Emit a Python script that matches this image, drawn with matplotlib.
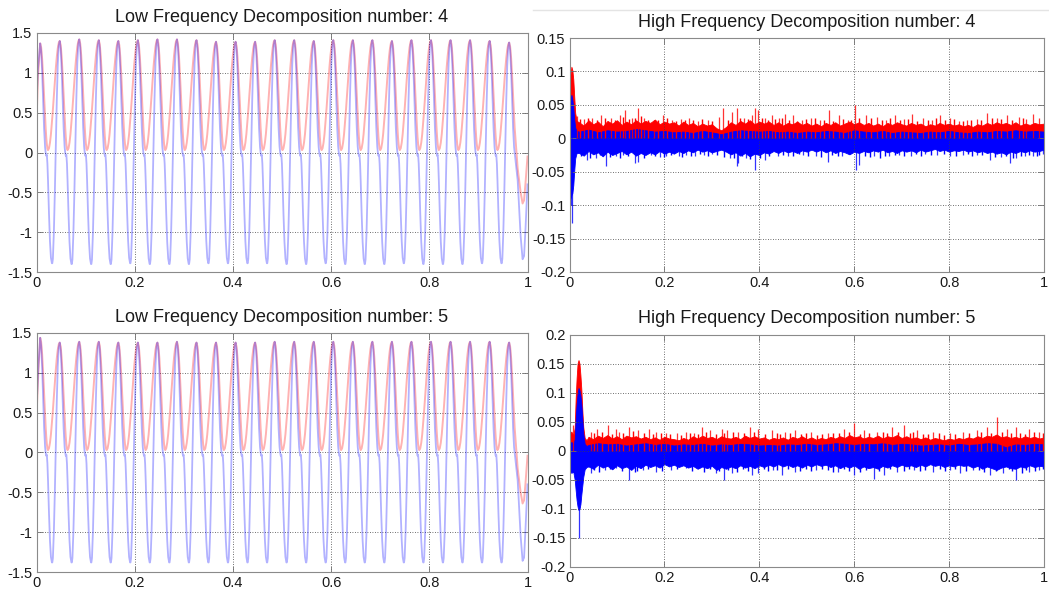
import numpy as np
import matplotlib
matplotlib.use("Agg")
import matplotlib.pyplot as plt
from matplotlib.lines import Line2D

plt.rcParams['font.family'] = ['Liberation Sans', 'DejaVu Sans']

# ---------------------------------------------------------------- axes ticks
XTICKS = [0, 0.2, 0.4, 0.6, 0.8, 1.0]
XLABELS = ['0', '0.2', '0.4', '0.6', '0.8', '1']
LF_YTICKS = [-1.5, -1, -0.5, 0, 0.5, 1, 1.5]
LF_YLABELS = ['-1.5', '-1', '-0.5', '0', '0.5', '1', '1.5']
HF4_YTICKS = [-0.2, -0.15, -0.1, -0.05, 0, 0.05, 0.1, 0.15]
HF4_YLABELS = ['-0.2', '-0.15', '-0.1', '-0.05', '0', '0.05', '0.1', '0.15']
HF5_YTICKS = [-0.2, -0.15, -0.1, -0.05, 0, 0.05, 0.1, 0.15, 0.2]
HF5_YLABELS = ['-0.2', '-0.15', '-0.1', '-0.05', '0', '0.05', '0.1', '0.15', '0.2']

# ------------------------------------------------------- low-frequency parts
LF_PERIOD = 0.0398        # one oscillation
LF_FIRST_PEAK = 0.0075    # time of the first crest
RED_FLOOR = 0.03          # minimum of the red component
# one cycle from crest to crest
CYCLE_PHASE = [0.0, 0.05, 0.10, 0.15, 0.20, 0.25, 0.28, 0.31, 0.34, 0.37, 0.40, 0.45,
               0.50, 0.55, 0.60, 0.62, 0.65, 0.70, 0.75, 0.80, 0.85, 0.90, 0.95]
RED_SHAPE = [1.0, 0.962, 0.854, 0.691, 0.50, 0.309, 0.21, 0.12, 0.055, 0.014, 0.0, 0.017,
             0.067, 0.146, 0.25, 0.30, 0.37, 0.50, 0.63, 0.75, 0.854, 0.933, 0.983]
BLUE_SHAPE = [1.0, 0.93, 0.74, 0.48, 0.22, 0.05, 0.0, -0.03, -0.02, -0.10, -0.25, -0.55,
              -0.80, -0.95, -1.0, -1.0, -0.96, -0.72, -0.36, 0.06, 0.47, 0.79, 0.96]

LF4_PEAKS = [1.37, 1.40, 1.42, 1.41, 1.40, 1.41, 1.42, 1.42, 1.41, 1.39, 1.39, 1.39, 1.41,
             1.41, 1.40, 1.41, 1.41, 1.41, 1.40, 1.41, 1.41, 1.41, 1.41, 1.40, 1.38]
LF4_TROUGHS = [-1.39, -1.40, -1.40, -1.40, -1.39, -1.40, -1.40, -1.40, -1.39, -1.39, -1.39, -1.39,
               -1.40, -1.40, -1.39, -1.40, -1.40, -1.40, -1.39, -1.40, -1.40, -1.40, -1.39, -1.39]
LF4_HEAD_X = [0.0, 0.003]
LF4_HEAD_RED = [0.38, 0.95]
LF4_HEAD_BLUE = [0.60, 1.05]
LF4_TAIL_X = [0.980, 0.986, 0.990, 0.993, 0.996, 1.0]
LF4_TAIL_RED = [-0.20, -0.50, -0.64, -0.60, -0.38, -0.05]
LF4_TAIL_BLUE = [-0.35, -1.05, -1.34, -1.30, -0.95, -0.40]

LF5_PEAKS = [1.44, 1.38, 1.39, 1.39, 1.38, 1.38, 1.38, 1.39, 1.38, 1.38, 1.38, 1.38, 1.39,
             1.39, 1.39, 1.39, 1.39, 1.39, 1.39, 1.39, 1.39, 1.39, 1.39, 1.39, 1.38]
LF5_TROUGHS = [-1.38, -1.38, -1.38, -1.38, -1.38, -1.38, -1.38, -1.38, -1.38, -1.38, -1.38, -1.38,
               -1.38, -1.38, -1.38, -1.38, -1.38, -1.38, -1.38, -1.38, -1.38, -1.38, -1.38, -1.38]
LF5_HEAD_X = [0.0, 0.004]
LF5_HEAD_RED = [0.45, 1.05]
LF5_HEAD_BLUE = [0.55, 1.10]
LF5_TAIL_X = [0.980, 0.986, 0.990, 0.993, 0.996, 1.0]
LF5_TAIL_RED = [-0.20, -0.50, -0.64, -0.60, -0.38, -0.04]
LF5_TAIL_BLUE = [-0.35, -1.05, -1.36, -1.32, -0.95, -0.40]

# ------------------------------------------------------ high-frequency parts
# decomposition 4: onset burst
HF4_T = [0.0, 0.002, 0.004, 0.006, 0.008, 0.010, 0.012, 0.015]
HF4_T_RED = [0.035, 0.095, 0.107, 0.102, 0.088, 0.062, 0.038, 0.026]
HF4_T_BTOP = [0.015, 0.055, 0.065, 0.058, 0.045, 0.028, 0.016, 0.011]
HF4_T_BBOT = [-0.035, -0.090, -0.085, -0.082, -0.070, -0.048, -0.030, -0.022]
# dense band, sampled every 0.01 from 0.02
HF4_RED_TOP = [0.024, 0.019, 0.027, 0.021, 0.025, 0.018, 0.026, 0.022, 0.027, 0.020,
               0.025, 0.021, 0.027, 0.022, 0.026, 0.023, 0.028, 0.021, 0.025, 0.022,
               0.024, 0.019, 0.025, 0.020, 0.023, 0.018, 0.022, 0.019, 0.021, 0.015,
               0.012, 0.017, 0.024, 0.020, 0.026, 0.022, 0.027, 0.021, 0.025, 0.022,
               0.025, 0.020, 0.024, 0.019, 0.023, 0.021, 0.025, 0.020, 0.023, 0.019,
               0.022, 0.018, 0.023, 0.020, 0.024, 0.019, 0.022, 0.025, 0.021, 0.024,
               0.020, 0.023, 0.019, 0.022, 0.018, 0.023, 0.020, 0.024, 0.021, 0.019,
               0.023, 0.020, 0.022, 0.018, 0.021, 0.019, 0.023, 0.020, 0.022, 0.019,
               0.021, 0.018, 0.020, 0.017, 0.021, 0.019, 0.023, 0.020, 0.024, 0.021,
               0.023, 0.020, 0.024, 0.019, 0.022, 0.020, 0.023, 0.021, 0.022]
HF4_BLUE_BOT = [-0.022, -0.026, -0.019, -0.024, -0.021, -0.027, -0.020, -0.025, -0.022, -0.019,
                -0.024, -0.020, -0.026, -0.022, -0.025, -0.021, -0.024, -0.019, -0.023, -0.020,
                -0.023, -0.019, -0.022, -0.018, -0.021, -0.017, -0.020, -0.018, -0.021, -0.019,
                -0.017, -0.020, -0.024, -0.021, -0.026, -0.022, -0.027, -0.023, -0.025, -0.021,
                -0.023, -0.019, -0.022, -0.018, -0.021, -0.019, -0.022, -0.018, -0.020, -0.017,
                -0.020, -0.017, -0.021, -0.018, -0.022, -0.019, -0.021, -0.024, -0.020, -0.022,
                -0.019, -0.021, -0.018, -0.020, -0.017, -0.021, -0.019, -0.022, -0.018, -0.020,
                -0.018, -0.021, -0.017, -0.020, -0.018, -0.016, -0.019, -0.017, -0.020, -0.018,
                -0.019, -0.017, -0.020, -0.018, -0.021, -0.019, -0.022, -0.020, -0.023, -0.021,
                -0.024, -0.020, -0.022, -0.019, -0.021, -0.018, -0.020, -0.019, -0.017]
# upper edge of the blue band, sampled every 0.02 from 0.02
HF4_BLUE_TOP = [0.010, 0.013, 0.009, 0.012, 0.010, 0.011, 0.014, 0.012, 0.010, 0.011,
                0.009, 0.010, 0.008, 0.011, 0.009, 0.006, 0.010, 0.012, 0.011, 0.010,
                0.011, 0.009, 0.010, 0.008, 0.010, 0.009, 0.011, 0.010, 0.008, 0.012,
                0.010, 0.009, 0.011, 0.008, 0.010, 0.009, 0.008, 0.010, 0.009, 0.011,
                0.009, 0.008, 0.010, 0.009, 0.011, 0.010, 0.012, 0.010, 0.011, 0.010]
# tall isolated excursions
HF4_RED_SPIKE_X = [0.015, 0.030, 0.048, 0.067, 0.088, 0.106, 0.118, 0.131, 0.144, 0.158, 0.179,
                   0.198, 0.217, 0.235, 0.252, 0.270, 0.292, 0.315, 0.323, 0.342, 0.353, 0.367,
                   0.384, 0.391, 0.398, 0.412, 0.426, 0.441, 0.454, 0.471, 0.490, 0.510, 0.528,
                   0.546, 0.569, 0.586, 0.602, 0.625, 0.649, 0.667, 0.687, 0.705, 0.722, 0.746,
                   0.765, 0.781, 0.802, 0.820, 0.837, 0.858, 0.880, 0.900, 0.921, 0.948, 0.962,
                   0.976, 0.990]
HF4_RED_SPIKE_Y = [0.033, 0.029, 0.031, 0.035, 0.030, 0.035, 0.042, 0.030, 0.045, 0.030, 0.028,
                   0.035, 0.028, 0.029, 0.030, 0.026, 0.027, 0.032, 0.045, 0.040, 0.045, 0.031,
                   0.035, 0.045, 0.042, 0.030, 0.035, 0.030, 0.037, 0.035, 0.028, 0.030, 0.027,
                   0.042, 0.035, 0.028, 0.050, 0.035, 0.032, 0.028, 0.035, 0.029, 0.037, 0.030,
                   0.027, 0.035, 0.030, 0.026, 0.028, 0.029, 0.038, 0.030, 0.035, 0.032, 0.029,
                   0.037, 0.030]
HF4_BLUE_SPIKE_X = [0.003, 0.0045, 0.036, 0.055, 0.076, 0.099, 0.113, 0.137, 0.144, 0.172, 0.190,
                    0.203, 0.231, 0.245, 0.265, 0.283, 0.300, 0.338, 0.353, 0.356, 0.372, 0.391,
                    0.412, 0.440, 0.461, 0.492, 0.520, 0.544, 0.575, 0.604, 0.611, 0.642, 0.673,
                    0.694, 0.720, 0.750, 0.775, 0.802, 0.830, 0.858, 0.886, 0.910, 0.928, 0.941,
                    0.960, 0.976, 0.997]
HF4_BLUE_SPIKE_Y = [-0.100, -0.127, -0.032, -0.029, -0.042, -0.027, -0.025, -0.037, -0.036, -0.025,
                    -0.028, -0.027, -0.027, -0.025, -0.026, -0.025, -0.024, -0.030, -0.042, -0.037,
                    -0.030, -0.047, -0.032, -0.027, -0.027, -0.025, -0.026, -0.035, -0.027, -0.047,
                    -0.040, -0.027, -0.027, -0.025, -0.026, -0.023, -0.025, -0.027, -0.025, -0.025,
                    -0.032, -0.028, -0.037, -0.030, -0.026, -0.027, -0.023]
# shorter excursions along the band edges
HF4_RED_GRASS_X = [0.022, 0.039, 0.057, 0.075, 0.095, 0.112, 0.125, 0.138, 0.151, 0.166,
                   0.186, 0.206, 0.225, 0.243, 0.261, 0.279, 0.300, 0.335, 0.360, 0.376,
                   0.405, 0.419, 0.434, 0.447, 0.462, 0.480, 0.499, 0.518, 0.537, 0.556,
                   0.577, 0.594, 0.611, 0.635, 0.658, 0.676, 0.696, 0.713, 0.733, 0.755,
                   0.773, 0.791, 0.811, 0.829, 0.847, 0.868, 0.890, 0.910, 0.932, 0.955]
HF4_RED_GRASS_Y = [0.029, 0.031, 0.027, 0.030, 0.028, 0.032, 0.029, 0.031, 0.033, 0.028,
                   0.027, 0.030, 0.026, 0.028, 0.027, 0.029, 0.026, 0.028, 0.030, 0.029,
                   0.031, 0.027, 0.029, 0.030, 0.028, 0.026, 0.029, 0.031, 0.028, 0.026,
                   0.029, 0.027, 0.030, 0.031, 0.028, 0.030, 0.027, 0.029, 0.026, 0.028,
                   0.030, 0.027, 0.029, 0.026, 0.028, 0.027, 0.030, 0.029, 0.028, 0.030]
HF4_BLUE_GRASS_X = [0.025, 0.044, 0.064, 0.086, 0.106, 0.124, 0.156, 0.181, 0.214, 0.238,
                    0.256, 0.274, 0.292, 0.310, 0.326, 0.346, 0.364, 0.381, 0.402, 0.421,
                    0.450, 0.472, 0.484, 0.503, 0.529, 0.553, 0.566, 0.588, 0.622, 0.633,
                    0.655, 0.665, 0.685, 0.704, 0.730, 0.741, 0.762, 0.789, 0.815, 0.840,
                    0.848, 0.870, 0.897, 0.920, 0.935, 0.952, 0.968, 0.985, 0.199, 0.990]
HF4_BLUE_GRASS_Y = [-0.027, -0.029, -0.025, -0.028, -0.030, -0.026, -0.029, -0.027, -0.025, -0.028,
                    -0.026, -0.024, -0.027, -0.025, -0.028, -0.030, -0.027, -0.031, -0.029, -0.026,
                    -0.025, -0.027, -0.024, -0.026, -0.028, -0.025, -0.027, -0.024, -0.026, -0.028,
                    -0.030, -0.026, -0.025, -0.027, -0.024, -0.026, -0.025, -0.023, -0.026, -0.024,
                    -0.027, -0.025, -0.028, -0.026, -0.029, -0.027, -0.025, -0.026, -0.028, -0.025]

# decomposition 5: onset burst
HF5_T = [0.0, 0.004, 0.008, 0.011, 0.013, 0.015, 0.017, 0.019, 0.021, 0.023, 0.025, 0.027,
         0.029, 0.032, 0.036]
HF5_T_RED = [0.028, 0.033, 0.026, 0.040, 0.090, 0.125, 0.150, 0.156, 0.150, 0.130, 0.105, 0.070,
             0.041, 0.022, 0.018]
HF5_T_BTOP = [0.012, 0.015, 0.012, 0.020, 0.055, 0.080, 0.098, 0.108, 0.104, 0.095, 0.080, 0.055,
              0.030, 0.012, 0.008]
HF5_T_BBOT = [-0.035, -0.038, -0.036, -0.050, -0.068, -0.085, -0.096, -0.102, -0.100, -0.092,
              -0.075, -0.060, -0.045, -0.032, -0.028]
# dense band, sampled every 0.01 from 0.04
HF5_RED_TOP = [0.024, 0.020, 0.026, 0.022, 0.027, 0.021, 0.025, 0.020, 0.026, 0.023,
               0.025, 0.021, 0.024, 0.020, 0.023, 0.019, 0.024, 0.021, 0.020, 0.018,
               0.022, 0.019, 0.025, 0.021, 0.026, 0.022, 0.024, 0.020, 0.025, 0.022,
               0.021, 0.024, 0.020, 0.026, 0.022, 0.025, 0.021, 0.023, 0.019, 0.022,
               0.020, 0.023, 0.019, 0.024, 0.021, 0.025, 0.020, 0.023, 0.019, 0.022,
               0.020, 0.024, 0.021, 0.025, 0.022, 0.027, 0.023, 0.025, 0.021, 0.024,
               0.022, 0.026, 0.021, 0.025, 0.023, 0.027, 0.022, 0.025, 0.021, 0.023,
               0.020, 0.023, 0.019, 0.022, 0.020, 0.018, 0.021, 0.019, 0.022, 0.020,
               0.023, 0.021, 0.025, 0.022, 0.026, 0.024, 0.028, 0.023, 0.025, 0.022,
               0.024, 0.021, 0.025, 0.022, 0.024, 0.021, 0.023]
HF5_BLUE_BOT = [-0.027, -0.031, -0.024, -0.029, -0.026, -0.032, -0.025, -0.030, -0.027, -0.033,
                -0.026, -0.030, -0.024, -0.028, -0.025, -0.029, -0.023, -0.027, -0.024, -0.028,
                -0.025, -0.029, -0.026, -0.031, -0.027, -0.030, -0.026, -0.033, -0.028, -0.031,
                -0.027, -0.030, -0.025, -0.029, -0.026, -0.030, -0.025, -0.028, -0.024, -0.027,
                -0.023, -0.027, -0.024, -0.028, -0.025, -0.029, -0.024, -0.027, -0.023, -0.026,
                -0.024, -0.028, -0.025, -0.030, -0.026, -0.029, -0.025, -0.031, -0.027, -0.030,
                -0.028, -0.031, -0.026, -0.029, -0.025, -0.028, -0.024, -0.027, -0.025, -0.028,
                -0.024, -0.027, -0.023, -0.026, -0.024, -0.028, -0.025, -0.027, -0.024, -0.026,
                -0.025, -0.029, -0.026, -0.031, -0.027, -0.030, -0.033, -0.029, -0.027, -0.030,
                -0.031, -0.027, -0.029, -0.025, -0.028, -0.026, -0.027]
# upper edge of the blue band, sampled every 0.02 from 0.04
HF5_BLUE_TOP = [0.010, 0.013, 0.011, 0.012, 0.009, 0.011, 0.013, 0.010, 0.012, 0.009,
                0.011, 0.010, 0.012, 0.009, 0.011, 0.010, 0.012, 0.011, 0.009, 0.010,
                0.009, 0.011, 0.010, 0.012, 0.010, 0.011, 0.013, 0.012, 0.010, 0.012,
                0.011, 0.013, 0.010, 0.012, 0.011, 0.009, 0.010, 0.011, 0.009, 0.012,
                0.010, 0.011, 0.013, 0.012, 0.006, 0.011, 0.010, 0.012, 0.011]
HF5_RED_SPIKE_X = [0.008, 0.046, 0.058, 0.081, 0.098, 0.105, 0.126, 0.144, 0.168, 0.182, 0.203,
                   0.227, 0.245, 0.262, 0.280, 0.297, 0.321, 0.332, 0.356, 0.381, 0.398, 0.426,
                   0.454, 0.475, 0.510, 0.544, 0.579, 0.600, 0.621, 0.649, 0.680, 0.705, 0.733,
                   0.767, 0.802, 0.830, 0.858, 0.879, 0.900, 0.921, 0.941, 0.969, 0.990]
HF5_RED_SPIKE_Y = [0.044, 0.033, 0.038, 0.044, 0.038, 0.033, 0.041, 0.036, 0.038, 0.033, 0.030,
                   0.030, 0.033, 0.031, 0.041, 0.036, 0.038, 0.036, 0.033, 0.041, 0.038, 0.036,
                   0.033, 0.036, 0.033, 0.030, 0.038, 0.047, 0.036, 0.033, 0.041, 0.044, 0.036,
                   0.033, 0.030, 0.033, 0.036, 0.041, 0.058, 0.038, 0.041, 0.038, 0.033]
HF5_BLUE_SPIKE_X = [0.019, 0.046, 0.074, 0.098, 0.126, 0.154, 0.182, 0.213, 0.245, 0.273, 0.308,
                    0.325, 0.342, 0.384, 0.398, 0.429, 0.447, 0.475, 0.520, 0.565, 0.600, 0.642,
                    0.663, 0.691, 0.726, 0.767, 0.802, 0.823, 0.851, 0.886, 0.914, 0.941, 0.969,
                    0.990]
HF5_BLUE_SPIKE_Y = [-0.150, -0.039, -0.033, -0.030, -0.050, -0.033, -0.036, -0.033, -0.030, -0.030,
                    -0.039, -0.050, -0.039, -0.042, -0.039, -0.033, -0.042, -0.036, -0.033, -0.036,
                    -0.042, -0.048, -0.042, -0.036, -0.033, -0.036, -0.033, -0.039, -0.033, -0.042,
                    -0.039, -0.050, -0.036, -0.033]
HF5_RED_GRASS_X = [0.051, 0.068, 0.089, 0.112, 0.134, 0.156, 0.175, 0.193, 0.212, 0.236,
                   0.253, 0.271, 0.288, 0.309, 0.326, 0.344, 0.368, 0.389, 0.412, 0.437,
                   0.444, 0.465, 0.488, 0.499, 0.522, 0.533, 0.556, 0.568, 0.590, 0.612,
                   0.632, 0.660, 0.670, 0.692, 0.717, 0.745, 0.756, 0.779, 0.790, 0.813,
                   0.842, 0.868, 0.889, 0.911, 0.930, 0.950, 0.960, 0.978, 0.998, 0.724]
HF5_RED_GRASS_Y = [0.030, 0.033, 0.029, 0.031, 0.034, 0.030, 0.028, 0.031, 0.029, 0.027,
                   0.030, 0.028, 0.032, 0.029, 0.031, 0.033, 0.030, 0.032, 0.028, 0.030,
                   0.029, 0.031, 0.028, 0.030, 0.027, 0.029, 0.031, 0.030, 0.032, 0.029,
                   0.031, 0.033, 0.030, 0.032, 0.031, 0.029, 0.028, 0.030, 0.027, 0.029,
                   0.030, 0.032, 0.031, 0.033, 0.030, 0.031, 0.029, 0.032, 0.030, 0.032]
HF5_BLUE_GRASS_X = [0.052, 0.063, 0.086, 0.110, 0.138, 0.165, 0.194, 0.226, 0.258, 0.284,
                    0.296, 0.316, 0.334, 0.352, 0.365, 0.376, 0.410, 0.418, 0.438, 0.460,
                    0.486, 0.498, 0.510, 0.532, 0.545, 0.555, 0.578, 0.590, 0.612, 0.625,
                    0.652, 0.676, 0.706, 0.716, 0.738, 0.750, 0.780, 0.792, 0.812, 0.835,
                    0.862, 0.874, 0.898, 0.926, 0.932, 0.953, 0.962, 0.980, 0.998, 0.143]
HF5_BLUE_GRASS_Y = [-0.033, -0.036, -0.031, -0.034, -0.037, -0.032, -0.035, -0.031, -0.034, -0.036,
                    -0.032, -0.035, -0.033, -0.036, -0.031, -0.034, -0.032, -0.035, -0.033, -0.031,
                    -0.034, -0.032, -0.035, -0.031, -0.033, -0.036, -0.032, -0.034, -0.037, -0.033,
                    -0.035, -0.032, -0.034, -0.031, -0.035, -0.033, -0.031, -0.034, -0.032, -0.035,
                    -0.033, -0.036, -0.034, -0.032, -0.035, -0.038, -0.033, -0.035, -0.032, -0.034]

W, H = 1049, 589
fig = plt.figure(figsize=(W / 100, H / 100), dpi=100)


def axes_px(left, top, right, bottom):
    return fig.add_axes([left / W, 1 - bottom / H, (right - left) / W, (bottom - top) / H])


def style(ax, ylim, yticks, ylabels, title):
    ax.set_xlim(0, 1)
    ax.set_ylim(*ylim)
    ax.set_xticks(XTICKS)
    ax.set_xticklabels(XLABELS)
    ax.set_yticks(yticks)
    ax.set_yticklabels(ylabels)
    ax.grid(True, linestyle=(0, (1, 2)), color='#404040', linewidth=0.6)
    ax.tick_params(direction='in', length=4, width=0.6, color='#707070',
                   top=True, right=True, labelsize=10.5, pad=3, labelcolor='#1a1a1a')
    for s in ax.spines.values():
        s.set_color('#8a8a8a')
        s.set_linewidth(0.8)
    ax.set_title(title, fontsize=13, pad=8, color='#1a1a1a')


def low_freq_series(peaks, troughs, head_x, head_r, head_b, tail_x, tail_r, tail_b):
    x, r, b = list(head_x), list(head_r), list(head_b)
    n = len(peaks)
    for k in range(n):
        t0 = LF_FIRST_PEAK + k * LF_PERIOD
        last = k == n - 1
        depth = troughs[min(k, len(troughs) - 1)]
        for p, rs, bs in zip(CYCLE_PHASE, RED_SHAPE, BLUE_SHAPE):
            if last and p > 0.28:
                break
            amp = peaks[k] if (p < 0.5 or last) else peaks[k + 1]
            x.append(t0 + p * LF_PERIOD)
            r.append(RED_FLOOR + (amp - RED_FLOOR) * rs)
            b.append(amp * bs if bs >= 0 else -depth * bs)
    x += tail_x
    r += tail_r
    b += tail_b
    return np.array(x), np.array(r), np.array(b)


def draw_low(ax, series):
    x, r, b = series
    ax.plot(x, r, color='#ff0000', alpha=0.3, lw=1.4, solid_joinstyle='round')
    ax.plot(x, b, color='#0000ff', alpha=0.3, lw=1.3, solid_joinstyle='round')


def draw_high(ax, t, t_red, t_btop, t_bbot, band_x, red_top, blue_bot, top_x, blue_top,
              rsx, rsy, bsx, bsy, rgx, rgy, bgx, bgy):
    rx = np.concatenate([t, band_x])
    ry = np.concatenate([t_red, red_top])
    by = np.concatenate([t_bbot, blue_bot])
    tx = np.concatenate([t, top_x])
    ty = np.concatenate([t_btop, blue_top])
    ax.fill_between(rx, 0, ry, color='#ff0000', lw=0.6)
    ax.vlines(rgx, 0, rgy, color='#ff0000', lw=1.0)
    ax.vlines(rsx, 0, rsy, color='#ff0000', lw=0.9, alpha=0.8)
    ax.fill_between(rx, by, 0, color='#0000ff', lw=0.6)
    ax.fill_between(tx, 0, ty, color='#0000ff', lw=0.6)
    ax.vlines(bgx, 0, bgy, color='#0000ff', lw=1.0)
    ax.vlines(bsx, 0, bsy, color='#0000ff', lw=0.9, alpha=0.8)


# time stamps of the sampled band edges
band4_x = np.round(np.arange(0.02, 1.0001, 0.01), 3)
top4_x = np.round(np.arange(0.02, 1.0001, 0.02), 3)
band5_x = np.round(np.arange(0.04, 1.0001, 0.01), 3)
top5_x = np.round(np.arange(0.04, 1.0001, 0.02), 3)

# --- top left
ax = axes_px(36.5, 33, 527.5, 272)
draw_low(ax, low_freq_series(LF4_PEAKS, LF4_TROUGHS, LF4_HEAD_X, LF4_HEAD_RED, LF4_HEAD_BLUE,
                             LF4_TAIL_X, LF4_TAIL_RED, LF4_TAIL_BLUE))
style(ax, (-1.5, 1.5), LF_YTICKS, LF_YLABELS, 'Low Frequency Decomposition number: 4')

# --- top right
ax = axes_px(569.5, 38, 1044, 272)
draw_high(ax, HF4_T, HF4_T_RED, HF4_T_BTOP, HF4_T_BBOT, band4_x, HF4_RED_TOP, HF4_BLUE_BOT,
          top4_x, HF4_BLUE_TOP, HF4_RED_SPIKE_X, HF4_RED_SPIKE_Y,
          HF4_BLUE_SPIKE_X, HF4_BLUE_SPIKE_Y, HF4_RED_GRASS_X, HF4_RED_GRASS_Y,
          HF4_BLUE_GRASS_X, HF4_BLUE_GRASS_Y)
style(ax, (-0.2, 0.15), HF4_YTICKS, HF4_YLABELS, 'High Frequency Decomposition number: 4')

# --- bottom left
ax = axes_px(36.5, 333, 527.5, 572)
draw_low(ax, low_freq_series(LF5_PEAKS, LF5_TROUGHS, LF5_HEAD_X, LF5_HEAD_RED, LF5_HEAD_BLUE,
                             LF5_TAIL_X, LF5_TAIL_RED, LF5_TAIL_BLUE))
style(ax, (-1.5, 1.5), LF_YTICKS, LF_YLABELS, 'Low Frequency Decomposition number: 5')

# --- bottom right
ax = axes_px(569.5, 334.5, 1044, 567)
draw_high(ax, HF5_T, HF5_T_RED, HF5_T_BTOP, HF5_T_BBOT, band5_x, HF5_RED_TOP, HF5_BLUE_BOT,
          top5_x, HF5_BLUE_TOP, HF5_RED_SPIKE_X, HF5_RED_SPIKE_Y,
          HF5_BLUE_SPIKE_X, HF5_BLUE_SPIKE_Y, HF5_RED_GRASS_X, HF5_RED_GRASS_Y,
          HF5_BLUE_GRASS_X, HF5_BLUE_GRASS_Y)
style(ax, (-0.2, 0.2), HF5_YTICKS, HF5_YLABELS, 'High Frequency Decomposition number: 5')

# faint frame edge above the right-hand panels
fig.add_artist(Line2D([533 / W, 1.0], [1 - 10 / H, 1 - 10 / H], color='#e4e4e4', lw=1))

fig.savefig('out.png', dpi=100, facecolor='white')
